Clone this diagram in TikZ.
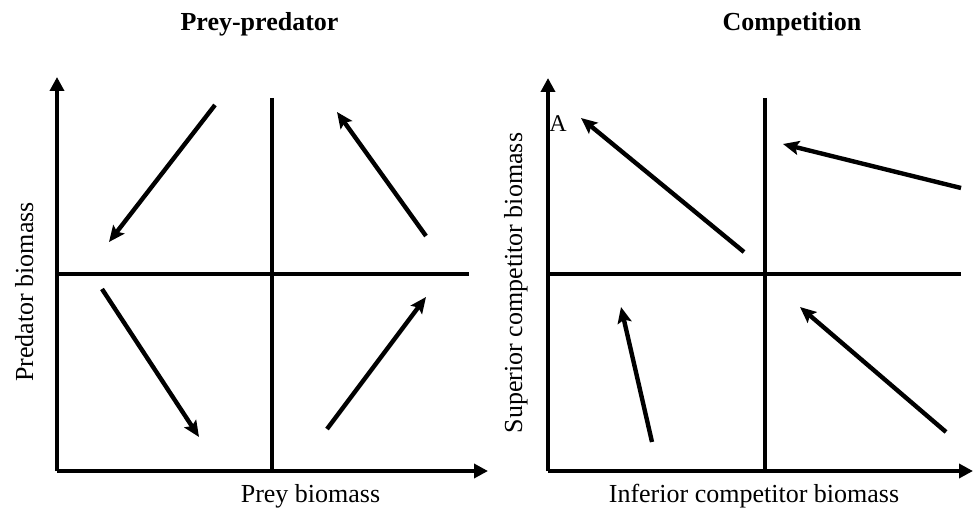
\documentclass[tikz,border=0pt]{standalone}
\usepackage{fontspec}
\setmainfont{Liberation Serif}
\usetikzlibrary{arrows.meta}

\begin{document}
\begin{tikzpicture}[x=0.5pt,y=-0.5pt,
  axis/.style={line width=1.8pt,-{Triangle[length=7pt,width=7pt]}},
  split/.style={line width=1.6pt},
  flow/.style={line width=2.2pt,-{Stealth[length=8pt,width=7pt,inset=1.5pt]}},
  lab/.style={font=\fontsize{13}{15}\selectfont,inner sep=0pt,anchor=base},
  ttl/.style={font=\fontsize{13}{15}\selectfont\bfseries,inner sep=0pt,anchor=base}]

\useasboundingbox (0,0) rectangle (974,508);

% prey-predator
\coordinate (po) at (57,471);
\coordinate (py) at (57,77);
\coordinate (px) at (488,471);
\coordinate (pv0) at (272,98);
\coordinate (pv1) at (272,471);
\coordinate (ph0) at (57,274);
\coordinate (ph1) at (469,274);

\draw[axis] (po)--(py);
\draw[axis] (po)--(px);
\draw[split] (pv0)--(pv1) (ph0)--(ph1);

\coordinate (a1) at (215,105);  \coordinate (b1) at (109,242);
\coordinate (a2) at (426,236);  \coordinate (b2) at (337,112);
\coordinate (a3) at (102,289);  \coordinate (b3) at (199,437);
\coordinate (a4) at (327,429);  \coordinate (b4) at (426,297);
\foreach \i in {1,2,3,4}
{
\draw[flow] (a\i)--(b\i);
}

\node[ttl] (ptitle) at (259.5,31) {Prey-predator};
\node[lab] (pxlab) at (310.5,502) {Prey biomass};
\node[lab,rotate=90] (pylab) at (33,292) {Predator biomass};

% competition
\coordinate (co) at (548,471);
\coordinate (cy) at (548,78);
\coordinate (cx) at (973,471);
\coordinate (cv0) at (765,98);
\coordinate (cv1) at (765,471);
\coordinate (ch0) at (548,274);
\coordinate (ch1) at (961,274);

\draw[axis] (co)--(cy);
\draw[axis] (co)--(cx);
\draw[split] (cv0)--(cv1) (ch0)--(ch1);

\coordinate (c1) at (744,252);  \coordinate (d1) at (581,118);
\coordinate (c2) at (961,188);  \coordinate (d2) at (783,144);
\coordinate (c3) at (652,442);  \coordinate (d3) at (621,307);
\coordinate (c4) at (946,432);  \coordinate (d4) at (800,307);
\foreach \i in {1,2,3,4}
{
\draw[flow] (c\i)--(d\i);
}

\node[font=\fontsize{12}{14}\selectfont,inner sep=0pt] (A) at (558,124) {A};

\node[ttl] (ctitle) at (792,31) {Competition};
\node[lab] (cxlab) at (754,502) {Inferior competitor biomass};
\node[lab,rotate=90] (cylab) at (522,283) {Superior competitor biomass};
\end{tikzpicture}
\end{document}
